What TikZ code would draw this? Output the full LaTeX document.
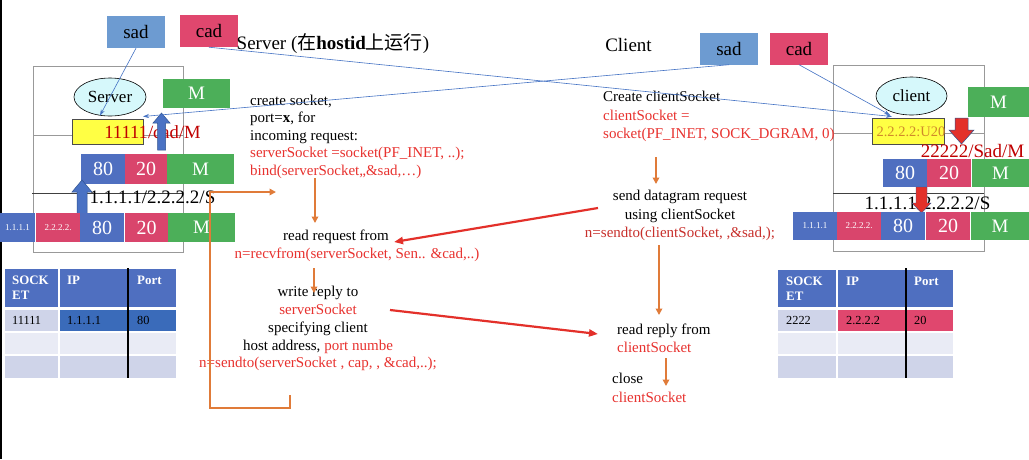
\documentclass[tikz,border=0pt]{standalone}
\usepackage{fontspec}
\setmainfont{Liberation Serif}
\newfontfamily\cjk{Noto Sans CJK SC}
\usetikzlibrary{arrows.meta,shapes.geometric}
\definecolor{sadblue}{HTML}{6D9BD1}
\definecolor{cadpink}{HTML}{E0476E}
\definecolor{cellblue}{HTML}{4F6FC0}
\definecolor{cellpink}{HTML}{D9456C}
\definecolor{mgreen}{HTML}{4CAF59}
\definecolor{hdrblue}{HTML}{4F6FC0}
\definecolor{rowblue}{HTML}{3A6BBA}
\definecolor{rowA}{HTML}{CFD4E9}
\definecolor{rowB}{HTML}{E9EBF5}
\definecolor{ylw}{HTML}{FFFF44}
\definecolor{cyanfill}{HTML}{D6F8FB}
\definecolor{codered}{HTML}{E8322F}
\definecolor{darkred}{HTML}{C00000}
\definecolor{sendred}{HTML}{C8302C}
\definecolor{orangeA}{HTML}{E07B39}
\definecolor{lineblue}{HTML}{4472C4}
\definecolor{arrowred}{HTML}{E3302A}
\definecolor{arrowblue}{HTML}{4A72C4}
\definecolor{arrowedge}{HTML}{2F528F}
\definecolor{golden}{HTML}{D08A2A}
\tikzset{
  cellbox/.style={minimum height=30pt, inner sep=0pt, text=white, font=\fontsize{20}{20}\selectfont},
  smallbox/.style={cellbox, font=\fontsize{9}{9}\selectfont},
  mbox/.style={cellbox, fill=mgreen, font=\fontsize{19}{19}\selectfont},
  tagbox/.style={minimum width=58pt, minimum height=32pt, inner sep=0pt, font=\fontsize{19}{19}\selectfont},
  codetext/.style={inner sep=0pt, font=\fontsize{15}{17.6}\selectfont},
  bline/.style={draw=lineblue, line width=0.6pt, -{Stealth[length=6pt,width=4pt]}},
  oarrow/.style={draw=orangeA, line width=1.8pt, -{Triangle[length=6.5pt,width=6.5pt]}},
  rarrow/.style={draw=arrowred, line width=2.2pt, -{Triangle[length=9pt,width=7pt]}},
  tcell/.style={inner sep=0pt, anchor=north west, font=\fontsize{12.3}{12.3}\selectfont},
  hdrtext/.style={inner sep=0pt, anchor=north west, text=white, align=left, font=\fontsize{12.9}{15}\selectfont\bfseries},
  hostline/.style={draw=gray!80, line width=0.8pt},
  bigtext/.style={inner sep=0pt, font=\fontsize{19}{19}\selectfont}
}
\begin{document}
\begin{tikzpicture}[x=1pt,y=-1pt]
\useasboundingbox (0,0) rectangle (1029,459);
\fill[white] (0,0) rectangle (1029,459);
\fill[black] (0,0) rectangle (2,459);

% ---------- host frames ----------
\draw[hostline] (33,66) rectangle (183,252);
\draw[hostline] (33,135) -- (183,135);
\draw[draw=black!75, line width=0.8pt] (32,193.5) -- (183,193.5);
\draw[hostline] (833,65) rectangle (984,251);
\draw[hostline] (833,133) -- (984,133);
\draw[draw=black!75, line width=0.8pt] (833,193) -- (984,193);

% ---------- tags ----------
\node[tagbox, fill=sadblue] (sadL) at (136,32) {sad};
\node[tagbox, fill=cadpink] (cadL) at (209,31) {cad};
\node[tagbox, fill=sadblue] (sadR) at (729,48.5) {sad};
\node[tagbox, fill=cadpink] (cadR) at (799,48.5) {cad};

\node[bigtext] (srvtitle) at (333,44) {Server ({\cjk 在}\textbf{hostid}{\cjk 上运行})};
\node[bigtext] (clititle) at (628.5,45) {Client};

% ---------- server host ----------
\node[ellipse, draw=black, line width=0.6pt, fill=cyanfill, minimum width=72pt, minimum height=38pt, inner sep=0pt, font=\fontsize{17}{17}\selectfont] (srv) at (110,97) {Server};
\node[mbox, minimum width=67pt, minimum height=29pt] (lmtop) at (196.5,93.5) {M};
\node[draw=black!70, line width=0.6pt, fill=ylw, minimum width=71pt, minimum height=25pt, inner sep=0pt] (yL) at (107.5,131.5) {};
\node[inner sep=0pt, text=darkred, font=\fontsize{18.6}{18.6}\selectfont] (yLtext) at (152.5,132) {11111/cad/M};

\node[cellbox, fill=cellblue, minimum width=44pt] (l80) at (103,169) {80};
\node[cellbox, fill=cellpink, minimum width=42pt] (l20) at (146,169) {20};
\node[mbox, minimum width=67pt] (lm) at (200.5,169) {M};

\fill[arrowblue, draw=arrowedge, line width=0.5pt] (77,215) -- (77,192) -- (72,192) -- (82,180) -- (92,192) -- (87,192) -- (87,215) -- cycle;
\node[bigtext] (laddr) at (152.5,197) {1.1.1.1/2.2.2.2/S};

\node[smallbox, fill=cellblue, minimum width=35pt, minimum height=29pt] (lip1) at (17.5,227.5) {1.1.1.1};
\node[smallbox, fill=cellpink, minimum width=44pt, minimum height=29pt] (lip2) at (58,227.5) {2.2.2.2.};
\node[cellbox, fill=cellblue, minimum width=44pt, minimum height=29pt] (lb80) at (102,227.5) {80};
\node[cellbox, fill=cellpink, minimum width=43pt, minimum height=29pt] (lb20) at (146.5,227.5) {20};
\node[mbox, minimum width=67pt, minimum height=29pt] (lbm) at (201.5,227.5) {M};

\fill[arrowblue, draw=arrowedge, line width=0.5pt] (157.5,150) -- (157.5,123) -- (153,123) -- (161.5,113) -- (170,123) -- (165.5,123) -- (165.5,150) -- cycle;

% ---------- client host ----------
\node[ellipse, draw=black, line width=0.6pt, fill=cyanfill, minimum width=71pt, minimum height=38pt, inner sep=0pt, font=\fontsize{17}{17}\selectfont] (cli) at (911.5,96) {client};
\node[mbox, minimum width=61pt] (rmtop) at (998.5,102) {M};
\node[draw=black!70, line width=0.6pt, fill=ylw, minimum width=72pt, minimum height=26pt, inner sep=0pt] (yR) at (908,131) {};
\node[inner sep=0pt, text=golden, font=\fontsize{14.5}{14.5}\selectfont] (yRtext) at (911,132) {2.2.2.2:U20};
\fill[arrowred, draw=arrowedge, line width=0.5pt] (955,118) -- (955,130) -- (949,130) -- (961.5,144) -- (974,130) -- (968,130) -- (968,118) -- cycle;
\node[inner sep=0pt, text=darkred, font=\fontsize{19}{19}\selectfont] (yRlabel) at (972.5,151) {22222/Sad/M};

\node[cellbox, fill=cellblue, minimum width=44pt, minimum height=28pt] (r80) at (905,173) {80};
\node[cellbox, fill=cellpink, minimum width=44pt, minimum height=28pt] (r20) at (949,173) {20};
\node[mbox, minimum width=57pt, minimum height=28pt] (rm) at (1000.5,173) {M};

\node[bigtext] (raddr) at (927.5,203) {1.1.1.1/2.2.2.2/S};
\fill[arrowred, draw=arrowedge, line width=0.4pt] (916,187) -- (916,203) -- (912,203) -- (921.5,213) -- (931,203) -- (927,203) -- (927,187) -- cycle;

\node[smallbox, fill=cellblue, minimum width=44pt, minimum height=28pt] (rip1) at (815,226) {1.1.1.1};
\node[smallbox, fill=cellpink, minimum width=44pt, minimum height=28pt] (rip2) at (859,226) {2.2.2.2.};
\node[cellbox, fill=cellblue, minimum width=44pt, minimum height=28pt] (rb80) at (903,226) {80};
\node[cellbox, fill=cellpink, minimum width=44pt, minimum height=28pt] (rb20) at (948,226) {20};
\node[mbox, minimum width=58pt, minimum height=28pt] (rbm) at (1000,226) {M};

% ---------- left table ----------
\node[tcell, fill=hdrblue, minimum width=53pt, minimum height=38pt] (lh1) at (5,269) {};
\node[tcell, fill=hdrblue, minimum width=67pt, minimum height=38pt] (lh2) at (60,269) {};
\node[tcell, fill=hdrblue, minimum width=47pt, minimum height=38pt] (lh3) at (129,269) {};
\node[hdrtext] (lht1) at (12,276) {SOCK\\ET};
\node[hdrtext] (lht2) at (67,276) {IP};
\node[hdrtext] (lht3) at (137,276) {Port};
\node[tcell, fill=rowA, minimum width=53pt, minimum height=21pt, text width=39pt, inner xsep=7pt, align=left] (l11) at (5,310) {11111};
\node[tcell, fill=rowblue, minimum width=67pt, minimum height=21pt, text width=53pt, inner xsep=7pt, align=left] (l12) at (60,310) {1.1.1.1};
\node[tcell, fill=rowblue, minimum width=47pt, minimum height=21pt, text width=37pt, inner xsep=5pt, align=left] (l13) at (129,310) {\hspace{3pt}80};
\node[tcell, fill=rowB, minimum width=53pt, minimum height=21pt] (l21) at (5,333) {};
\node[tcell, fill=rowB, minimum width=67pt, minimum height=21pt] (l22) at (60,333) {};
\node[tcell, fill=rowB, minimum width=47pt, minimum height=21pt] (l23) at (129,333) {};
\node[tcell, fill=rowA, minimum width=53pt, minimum height=22pt] (l31) at (5,356) {};
\node[tcell, fill=rowA, minimum width=67pt, minimum height=22pt] (l32) at (60,356) {};
\node[tcell, fill=rowA, minimum width=47pt, minimum height=22pt] (l33) at (129,356) {};
\draw[black, line width=1.5pt] (128,268) -- (128,378);

% ---------- right table ----------
\node[tcell, fill=hdrblue, minimum width=58pt, minimum height=37pt] (rh1) at (778,270) {};
\node[tcell, fill=hdrblue, minimum width=67pt, minimum height=37pt] (rh2) at (838,270) {};
\node[tcell, fill=hdrblue, minimum width=46pt, minimum height=37pt] (rh3) at (907,270) {};
\node[hdrtext] (rht1) at (786,277) {SOCK\\ET};
\node[hdrtext] (rht2) at (846,277) {IP};
\node[hdrtext] (rht3) at (914,277) {Port};
\node[tcell, fill=rowA, minimum width=58pt, minimum height=21pt, text width=50pt, inner xsep=4pt, align=left] (r11) at (778,310) {\hspace{4pt}2222};
\node[tcell, fill=cadpink, minimum width=67pt, minimum height=21pt, text width=59pt, inner xsep=4pt, align=left] (r12) at (838,310) {\hspace{4pt}2.2.2.2};
\node[tcell, fill=cadpink, minimum width=46pt, minimum height=21pt, text width=40pt, inner xsep=3pt, align=left] (r13) at (907,310) {\hspace{4pt}20};
\node[tcell, fill=rowB, minimum width=58pt, minimum height=21pt] (r21) at (778,333) {};
\node[tcell, fill=rowB, minimum width=67pt, minimum height=21pt] (r22) at (838,333) {};
\node[tcell, fill=rowB, minimum width=46pt, minimum height=21pt] (r23) at (907,333) {};
\node[tcell, fill=rowA, minimum width=58pt, minimum height=22pt] (r31) at (778,356) {};
\node[tcell, fill=rowA, minimum width=67pt, minimum height=22pt] (r32) at (838,356) {};
\node[tcell, fill=rowA, minimum width=46pt, minimum height=22pt] (r33) at (907,356) {};
\draw[black, line width=1.5pt] (906,268) -- (906,378);

% ---------- server code ----------
\node[codetext, anchor=north west, align=left] (srvcode) at (250,94.5) {create socket,\\port=\textbf{x}, for\\incoming request:\\{\color{codered}serverSocket =socket(PF\_INET, ..);}\\{\color{codered}bind(serverSocket,,\&sad,…)}};
\node[codetext] (readreq) at (336,237) {read request from};
\node[codetext, text=codered] (recvf) at (357,255) {n=recvfrom(serverSocket, Sen.. \&cad,..)};
\node[codetext, anchor=north, align=center, font=\fontsize{15}{17.8}\selectfont] (writerep) at (318,286) {write reply to\\{\color{codered}serverSocket}\\specifying client\\host address, {\color{codered}port numbe}\\{\color{codered}n=sendto(serverSocket , cap, , \&cad,..);}};

% ---------- client code ----------
\node[codetext, anchor=north west, align=left, font=\fontsize{15}{18.5}\selectfont] (clicode) at (603,91) {Create clientSocket\\{\color{codered}clientSocket =}\\{\color{codered}socket(PF\_INET, SOCK\_DGRAM, 0)}};
\node[codetext, anchor=north, align=center, font=\fontsize{15}{18.5}\selectfont] (sendreq) at (680,190) {send datagram request\\using clientSocket\\{\color{sendred}n=sendto(clientSocket, ,\&sad,);}};
\node[codetext, anchor=north west, align=left, font=\fontsize{15}{18}\selectfont] (readrep) at (617,324) {read reply from\\{\color{codered}clientSocket}};
\node[codetext, anchor=north west, align=left, font=\fontsize{15}{19}\selectfont] (closecli) at (612,373) {close\\{\color{codered}clientSocket}};

% ---------- blue address lines ----------
\coordinate (yLtip) at (100,115.5);
\coordinate (yLtipB) at (143,116.5);
\coordinate (yRtip) at (892,116.5);
\coordinate (yRtipB) at (890,115);
\draw[bline] (sadL.south) -- (yLtip);
\draw[bline] (sadR.south) -- (yLtipB);
\draw[bline] (cadL.south) -- (yRtip);
\draw[bline] (cadR.south) -- (yRtipB);

% ---------- orange flow ----------
\coordinate (lpA) at (290,395);
\coordinate (lpB) at (290,408);
\coordinate (lpC) at (210,408);
\coordinate (lpD) at (210,192);
\coordinate (lpE) at (276,192);
\draw[oarrow] (lpA) -- (lpB) -- (lpC) -- (lpD) -- (lpE);
\coordinate (o1a) at (315,178); \coordinate (o1b) at (315,223);
\coordinate (o2a) at (314,268); \coordinate (o2b) at (314,293);
\coordinate (o3a) at (656,157); \coordinate (o3b) at (656,184);
\coordinate (o4a) at (659,245); \coordinate (o4b) at (659,315);
\coordinate (o5a) at (666,358); \coordinate (o5b) at (666,386);
\draw[oarrow] (o1a) -- (o1b);
\draw[oarrow] (o2a) -- (o2b);
\draw[oarrow] (o3a) -- (o3b);
\draw[oarrow] (o4a) -- (o4b);
\draw[oarrow] (o5a) -- (o5b);

% ---------- red message arrows ----------
\coordinate (r1a) at (598,208); \coordinate (r1b) at (394,242);
\coordinate (r2a) at (390,310); \coordinate (r2b) at (598,334);
\draw[rarrow] (r1a) -- (r1b);
\draw[rarrow] (r2a) -- (r2b);
\end{tikzpicture}
\end{document}
